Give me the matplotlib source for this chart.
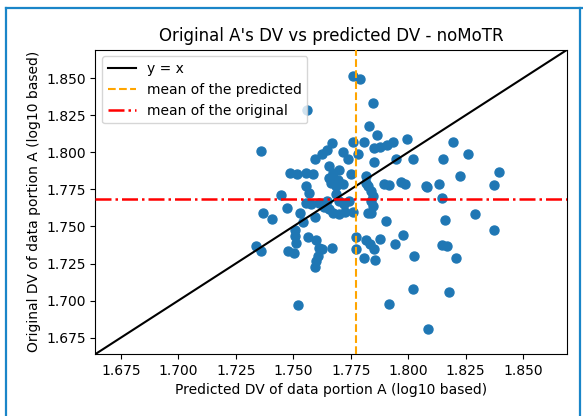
import numpy as np
import matplotlib
matplotlib.use("Agg")
import matplotlib.pyplot as plt
from matplotlib.lines import Line2D

# values (log10 based)
predicted = [
    1.7758, 1.7791, 1.7845, 1.7559, 1.7829, 1.7864, 1.7362, 1.7668, 1.7758, 1.7806,
    1.7781, 1.7647, 1.7715, 1.7625, 1.7596, 1.7738, 1.7853, 1.7877, 1.7910, 1.7936,
    1.7997, 1.7852, 1.7945, 1.7657, 1.7485, 1.7517, 1.7554, 1.7588, 1.7672, 1.7701,
    1.7753, 1.7657, 1.7693, 1.7556, 1.7448, 1.7897, 1.7915, 1.7969, 1.7987, 1.8078,
    1.7817, 1.7839, 1.8197, 1.8262, 1.8020, 1.8153, 1.8394, 1.8226, 1.8373, 1.8082,
    1.8136, 1.8147, 1.8162, 1.8292, 1.8373, 1.7976, 1.8148, 1.8167, 1.8027, 1.8209,
    1.8023, 1.8177, 1.8085, 1.7915, 1.7519, 1.7367, 1.7408, 1.7472, 1.7531, 1.7544,
    1.7594, 1.7570, 1.7509, 1.7509, 1.7511, 1.7476, 1.7503, 1.7340, 1.7361, 1.7564,
    1.7600, 1.7611, 1.7625, 1.7670, 1.7606, 1.7600, 1.7593, 1.7773, 1.7773, 1.7817,
    1.7836, 1.7853, 1.7810, 1.7857, 1.7878, 1.7943, 1.7904, 1.7839, 1.7846, 1.7556,
    1.7579, 1.7614, 1.7648, 1.7686, 1.7701, 1.7723, 1.7744, 1.7715, 1.7686, 1.7665,
    1.7817, 1.7824, 1.7839, 1.7846, 1.7824, 1.7657, 1.7675, 1.7701, 1.7727, 1.7635,
    1.7758,
]
original = [
    1.8511, 1.8494, 1.8332, 1.8282, 1.8175, 1.8119, 1.8009, 1.8066, 1.8071, 1.8068,
    1.7989, 1.8016, 1.8002, 1.7989, 1.7955, 1.7952, 1.8026, 1.8037, 1.8049, 1.8069,
    1.8091, 1.7935, 1.7954, 1.7905, 1.7863, 1.7855, 1.7858, 1.7853, 1.7863, 1.7878,
    1.7851, 1.7825, 1.7811, 1.7773, 1.7710, 1.7784, 1.7779, 1.7800, 1.7786, 1.7773,
    1.7796, 1.7737, 1.8068, 1.7990, 1.7952, 1.7952, 1.7869, 1.7838, 1.7779, 1.7768,
    1.7784, 1.7689, 1.7543, 1.7583, 1.7477, 1.7440, 1.7378, 1.7370, 1.7301, 1.7286,
    1.7080, 1.7061, 1.6806, 1.6979, 1.6972, 1.7594, 1.7549, 1.7625, 1.7594, 1.7531,
    1.7566, 1.7724, 1.7479, 1.7435, 1.7388, 1.7336, 1.7323, 1.7370, 1.7336, 1.7430,
    1.7408, 1.7358, 1.7348, 1.7355, 1.7299, 1.7269, 1.7225, 1.7430, 1.7345, 1.7406,
    1.7385, 1.7345, 1.7290, 1.7275, 1.7415, 1.7382, 1.7538, 1.7589, 1.7702, 1.7661,
    1.7650, 1.7657, 1.7670, 1.7717, 1.7670, 1.7650, 1.7672, 1.7784, 1.7771, 1.7796,
    1.7840, 1.7771, 1.7672, 1.7636, 1.7594, 1.7616, 1.7589, 1.7583, 1.7596, 1.7630,
    1.7596,
]
mean_predicted = 1.7774
mean_original = 1.7683
axis_lim = (1.664, 1.8693)
ticks = [1.675, 1.700, 1.725, 1.750, 1.775, 1.800, 1.825, 1.850]

fig = plt.figure(figsize=(5.83, 4.16), dpi=100)
ax = fig.add_axes([0.1638, 0.149, 0.8096, 0.732])

ax.scatter(predicted, original, s=42, color="#1f77b4", zorder=2)
ax.plot(axis_lim, axis_lim, color="black", lw=1.5, label="y = x", zorder=3)
ax.axvline(mean_predicted, color="orange", ls="--", lw=1.5, label="mean of the predicted", zorder=3)
ax.axhline(mean_original, color="red", ls="-.", lw=1.8, label="mean of the original", zorder=3)

ax.set_xlim(axis_lim)
ax.set_ylim(axis_lim)
ax.set_xticks(ticks)
ax.set_yticks(ticks)
ax.set_xticklabels([f"{t:.3f}" for t in ticks])
ax.set_yticklabels([f"{t:.3f}" for t in ticks])
ax.set_xlabel("Predicted DV of data portion A (log10 based)")
ax.set_ylabel("Original DV of data portion A (log10 based)")
ax.set_title("Original A's DV vs predicted DV - noMoTR", fontsize=12)
leg = ax.legend(loc="upper left", fontsize=10)
leg.set_zorder(5)

# blue frame around the output cell
frame_col = "#1a85c8"
fig.add_artist(Line2D([0.0095, 0.0095], [0.0, 0.98], transform=fig.transFigure, color=frame_col, lw=1.6))
fig.add_artist(Line2D([0.0095, 1.0], [0.98, 0.98], transform=fig.transFigure, color=frame_col, lw=1.6))
fig.add_artist(Line2D([0.994, 0.994], [0.0, 0.98], transform=fig.transFigure, color=frame_col, lw=1.6))

fig.savefig("out.png", dpi=100)
